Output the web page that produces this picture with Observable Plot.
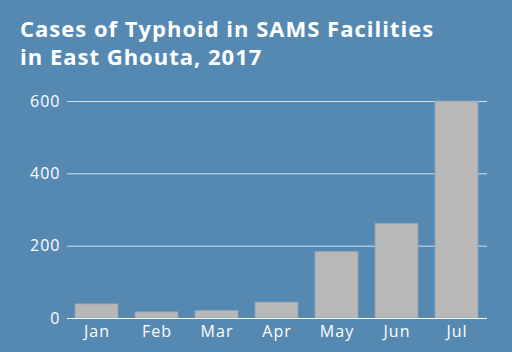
<!DOCTYPE html>
<html>
<head>
<meta charset="utf-8">
<script src="https://cdn.jsdelivr.net/npm/d3@7"></script>
<script src="https://cdn.jsdelivr.net/npm/@observablehq/plot@0.6"></script>
<style>
  html, body { margin: 0; padding: 0; background: #5589b2; width: 512px; height: 352px; overflow: hidden; }
  #title { position: relative; height: 80px; box-sizing: border-box; padding: 14px 0 0 20px;
    font-family: "Open Sans", Lato, sans-serif; font-weight: 700; font-size: 22px; line-height: 28px;
    color: #ffffff; letter-spacing: 1px; }
  #chart svg { display: block; }
  #chart svg text { font-size: 16px; font-family: "Open Sans", Lato, sans-serif; letter-spacing: 1px; }
</style>
</head>
<body>
<div id="title">Cases of Typhoid in SAMS Facilities<br>in East Ghouta, 2017</div>
<div id="chart"></div>
<script>
const months = ["Jan", "Feb", "Mar", "Apr", "May", "Jun", "Jul"];
const cases = [39, 17, 21, 44, 184, 262, 600];
const yTicks = [0, 200, 400, 600];

const data = months.map((m, i) => ({month: m, cases: cases[i]}));

const chart = Plot.plot({
  width: 512,
  height: 272,
  marginTop: 21,
  marginBottom: 34,
  marginLeft: 67,
  marginRight: 25,
  style: {background: "transparent", color: "#ffffff", fontFamily: "'Open Sans', Lato, sans-serif", fontSize: "16px"},
  x: {domain: months, paddingInner: 0.28, paddingOuter: 0.14, label: null},
  y: {domain: [0, 600], label: null},
  marks: [
    Plot.ruleY(yTicks, {stroke: "#ffffff", strokeOpacity: 0.75, strokeWidth: 1}),
    Plot.barY(data, {x: "month", y: "cases", fill: "#b8b8b8", stroke: "#8fa3b5", strokeWidth: 0.8}),
    Plot.ruleY([0], {stroke: "#ffffff", strokeOpacity: 0.85}),
    Plot.axisY({ticks: yTicks, tickSize: 0, tickPadding: 7, label: null}),
    Plot.axisX({tickSize: 0, tickPadding: 7, label: null})
  ]
});
document.getElementById("chart").appendChild(chart);
</script>
</body>
</html>
